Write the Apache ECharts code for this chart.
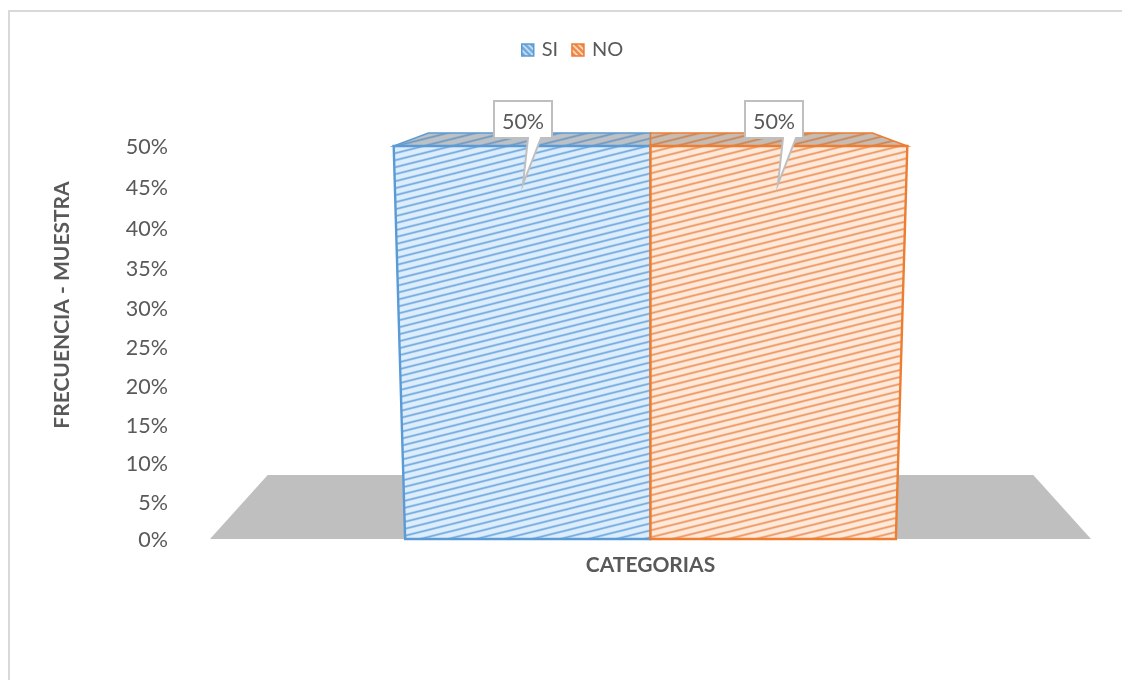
<!DOCTYPE html>
<html>
<head>
<meta charset="utf-8">
<script src="https://cdn.jsdelivr.net/npm/echarts@6/dist/echarts.min.js"></script>
<style>html,body{margin:0;padding:0;background:#fff}#c{width:1122px;height:680px}</style>
</head>
<body>
<div id="c"></div>
<script>
// ---- data ----
const categories = ['CATEGORIAS'];
const seriesNames = ['SI', 'NO'];
const siValues = [50];
const noValues = [50];
const tickValues = [0, 5, 10, 15, 20, 25, 30, 35, 40, 45, 50];

// ---- perspective of the 3D wall: ticks get slightly wider towards the top ----
const AXIS_MAX = 50, PERSP = 0.0417;
const project = v => v / (1 + PERSP * (1 - v / AXIS_MAX));
const unproject = u => {
  // inverse of project, used to print the real percentage on each tick
  const k = 1 + PERSP;
  return u * k / (1 + PERSP * u / AXIS_MAX);
};

function hatch(bg, wide, thin) {
  const w = 28, h = 7;
  const c = document.createElement('canvas');
  c.width = w; c.height = h;
  const g = c.getContext('2d');
  g.fillStyle = bg; g.fillRect(0, 0, w, h);
  [[wide, 2.6], [thin, 1]].forEach(([col, lw]) => {
    g.strokeStyle = col; g.lineWidth = lw;
    [-h, 0, h].forEach(o => {
      g.beginPath(); g.moveTo(-4, h + o + 1); g.lineTo(w + 4, o - 1); g.stroke();
    });
  });
  return c;
}
function iconHatch(bg, line) {
  const s = 6;
  const c = document.createElement('canvas');
  c.width = s; c.height = s;
  const g = c.getContext('2d');
  g.fillStyle = bg; g.fillRect(0, 0, s, s);
  g.strokeStyle = line; g.lineWidth = 1.6;
  [-s, 0, s].forEach(o => {
    g.beginPath(); g.moveTo(o - 1, -1); g.lineTo(o + s + 1, s + 1); g.stroke();
  });
  return c;
}
const BLUE = '#5b9bd5', ORANGE = '#ed7d31';
const patterns = {
  SI: { image: hatch('#dcedfc', '#a6cbee', '#6fa5db'), repeat: 'repeat' },
  NO: { image: hatch('#fee9da', '#f5bd98', '#ea945f'), repeat: 'repeat' }
};
const topPatterns = {
  SI: { image: hatch('#bcc1c5', '#94aec8', '#7097bd'), repeat: 'repeat' },
  NO: { image: hatch('#c7bcb4', '#cd9f7e', '#c98556'), repeat: 'repeat' }
};
const iconPatterns = {
  SI: { image: iconHatch('#6fa8dc', '#cfe3f5'), repeat: 'repeat' },
  NO: { image: iconHatch('#ef8a4a', '#fbdcc8'), repeat: 'repeat' }
};

// geometry of the box, as fractions of the category band
const BASE_W = 0.2785, TOP_W = 0.2915, BACK_W = 0.252, DEPTH = 13;

function boxItem(name, color, side) {
  return function (params, api) {
    const size = api.size([1, 0])[0];
    const base = api.coord([api.value(0), 0]);
    const top = api.coord([api.value(0), project(api.value(1))]);
    const cx = base[0];
    const s = side;
    const front = [[cx, base[1]], [cx + s * BASE_W * size, base[1]], [cx + s * TOP_W * size, top[1]], [cx, top[1]]];
    const roof = [[cx, top[1]], [cx + s * TOP_W * size, top[1]], [cx + s * BACK_W * size, top[1] - DEPTH], [cx, top[1] - DEPTH]];
    return {
      type: 'group',
      children: [
        { type: 'polygon', shape: { points: roof }, style: { fill: topPatterns[name], stroke: color, lineWidth: 1.5 } },
        { type: 'polygon', shape: { points: front }, style: { fill: patterns[name], stroke: color, lineWidth: 2.4 } }
      ]
    };
  };
}

function calloutItem(offsetX, tailShift) {
  return function (params, api) {
    const base = api.coord([api.value(0), 0]);
    const top = api.coord([api.value(0), project(api.value(1))]);
    const l = base[0] + offsetX, t = top[1] - 45, w = 58, h = 37, d = tailShift;
    const pts = [[l, t], [l + w, t], [l + w, t + h], [l + 47 + d, t + h], [l + 29 + d, t + 83], [l + 34 + d, t + h], [l, t + h]];
    return {
      type: 'group',
      children: [
        { type: 'polygon', shape: { points: pts }, style: { fill: '#ffffff', stroke: '#bfbfbf', lineWidth: 2 } },
        { type: 'text', style: { text: api.value(1) + '%', x: l + w / 2, y: t + h / 2 + 2.5, align: 'center', verticalAlign: 'middle', fill: '#595959', font: '21.5px Lato' } }
      ]
    };
  };
}

function floorItem(params, api) {
  const size = api.size([1, 0])[0];
  const p = api.coord([api.value(0), 0]);
  const cx = p[0], y = p[1];
  return {
    type: 'polygon',
    shape: { points: [[cx - size / 2, y], [cx + size / 2, y], [cx + 0.4345 * size, y - 64], [cx - 0.4345 * size, y - 64]] },
    style: { fill: '#bfbfbf' }
  };
}

const option = {
  backgroundColor: '#fff',
  animation: false,
  textStyle: { fontFamily: 'Lato' },
  graphic: [
    { type: 'polyline', shape: { points: [[9, 680], [9, 11], [1122, 11]] }, style: { stroke: '#d9d9d9', lineWidth: 2, fill: 'none' }, silent: true },
    { type: 'text', x: 62, y: 305, rotation: Math.PI / 2, style: { text: 'FRECUENCIA - MUESTRA', align: 'center', verticalAlign: 'middle', font: 'bold 21px Lato', fill: '#595959' } }
  ],
  legend: {
    top: 35, left: 516, itemWidth: 12, itemHeight: 12, itemGap: 13, icon: 'rect',
    textStyle: { fontSize: 20, color: '#595959', fontFamily: 'Lato', padding: [0, 0, 0, 3] },
    data: [
      { name: seriesNames[0], itemStyle: { color: iconPatterns.SI, borderColor: BLUE, borderWidth: 1.5 } },
      { name: seriesNames[1], itemStyle: { color: iconPatterns.NO, borderColor: ORANGE, borderWidth: 1.5 } }
    ]
  },
  grid: { left: 210, right: 31, top: 146, bottom: 141 },
  xAxis: {
    type: 'category', data: categories,
    axisLine: { show: false }, axisTick: { show: false }, axisLabel: { show: false },
    name: 'CATEGORIAS', nameLocation: 'middle', nameGap: 26,
    nameTextStyle: { fontFamily: 'Lato', fontWeight: 'bold', fontSize: 21, color: '#595959', verticalAlign: 'middle' }
  },
  yAxis: {
    type: 'value', min: 0, max: AXIS_MAX,
    axisLine: { show: false }, axisTick: { show: false }, splitLine: { show: false },
    axisLabel: {
      customValues: tickValues.map(project),
      formatter: v => Math.round(unproject(v)) + '%',
      margin: 42, fontSize: 21.5, color: '#595959', fontFamily: 'Lato',
      verticalAlign: 'top', lineHeight: 3
    }
  },
  series: [
    { type: 'custom', name: '__floor', silent: true, z: 1, renderItem: floorItem, data: categories.map((c, i) => [i, 0]) },
    { type: 'custom', name: seriesNames[0], z: 2, itemStyle: { color: BLUE }, renderItem: boxItem('SI', BLUE, -1), data: siValues.map((v, i) => [i, v]) },
    { type: 'custom', name: seriesNames[1], z: 3, itemStyle: { color: ORANGE }, renderItem: boxItem('NO', ORANGE, 1), data: noValues.map((v, i) => [i, v]) },
    { type: 'custom', name: '__c1', silent: true, z: 4, renderItem: calloutItem(-156.5, 0), data: siValues.map((v, i) => [i, v]) },
    { type: 'custom', name: '__c2', silent: true, z: 4, renderItem: calloutItem(94.5, 4), data: noValues.map((v, i) => [i, v]) }
  ]
};
echarts.init(document.getElementById('c'), null, { renderer: 'canvas' }).setOption(option);
</script>
</body>
</html>
